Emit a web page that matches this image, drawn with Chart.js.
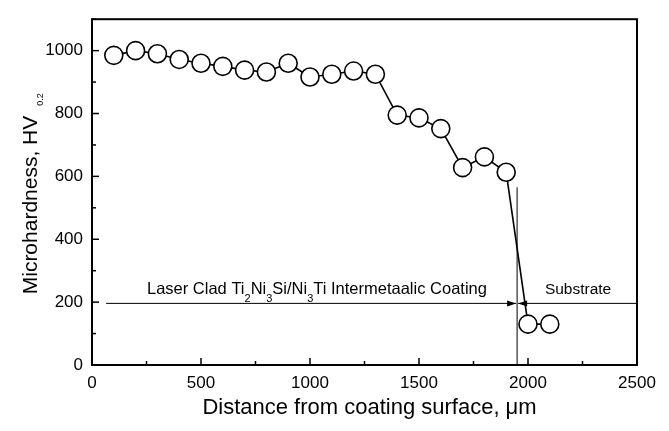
<!DOCTYPE html>
<html>
<head>
<meta charset="utf-8">
<script src="https://cdn.jsdelivr.net/npm/chart.js@4/dist/chart.umd.min.js"></script>
<style>
html,body{margin:0;padding:0;background:#fff;}
#wrap{width:669px;height:431px;position:relative;}
</style>
</head>
<body>
<div id="wrap"><canvas id="c" width="669" height="431"></canvas></div>
<script>
// ---- data ----
const distance = [100,200,300,400,500,600,700,800,900,1000,1100,1200,1300,1400,1500,1600,1700,1800,1900,2000,2100];
const hardness = [985,1000,990,972,960,950,938,932,960,916,925,935,925,795,786,752,628,662,613,130,130];
const xTicks = [0,500,1000,1500,2000,2500];
const yTicks = [0,200,400,600,800,1000];
const boundaryX = 1950;       // coating / substrate boundary
const boundaryTop = 565;      // top of boundary line (HV)
const arrowY = 196;           // level of arrows (HV)
const arrowStartX = 65;       // left end of coating arrow
const coatingLabelY = 225;
const xTitle = 'Distance from coating surface, \u03BCm';
const yTitle = 'Microhardness, HV';
const ySub = '0.2';

const FONT = '"Liberation Sans", Arial, Helvetica, sans-serif';

function drawRich(ctx, parts, x, y, size) {
  let cx = x;
  for (const [t, sub] of parts) {
    ctx.font = (sub ? Math.round(size*0.66) : size) + 'px ' + FONT;
    ctx.fillText(t, cx, sub ? y + size*0.45 : y);
    cx += ctx.measureText(t).width;
  }
  return cx - x;
}

const decor = {
  id: 'decor',
  afterDraw(chart) {
    const ctx = chart.ctx;
    const xs = chart.scales.x, ys = chart.scales.y;
    const a = chart.chartArea;
    ctx.save();
    ctx.strokeStyle = '#000'; ctx.fillStyle = '#000';
    ctx.lineWidth = 2;
    ctx.strokeRect(a.left, a.top, a.right - a.left, a.bottom - a.top);
    ctx.lineWidth = 1.5;
    for (let v = 0; v <= 2500; v += 250) {
      const px = xs.getPixelForValue(v);
      const len = (v % 500 === 0) ? 7 : 4;
      ctx.beginPath(); ctx.moveTo(px, a.bottom); ctx.lineTo(px, a.bottom - len); ctx.stroke();
    }
    for (let v = 0; v <= 1100; v += 100) {
      const py = ys.getPixelForValue(v);
      const len = (v % 200 === 0) ? 7 : 4;
      ctx.beginPath(); ctx.moveTo(a.left, py); ctx.lineTo(a.left + len, py); ctx.stroke();
    }
    const bx = xs.getPixelForValue(boundaryX);
    ctx.lineWidth = 1;
    ctx.beginPath(); ctx.moveTo(bx, a.bottom); ctx.lineTo(bx, ys.getPixelForValue(boundaryTop)); ctx.stroke();
    const ay = ys.getPixelForValue(arrowY);
    const x0 = xs.getPixelForValue(arrowStartX);
    ctx.beginPath(); ctx.moveTo(x0, ay); ctx.lineTo(bx - 1, ay); ctx.stroke();
    ctx.beginPath(); ctx.moveTo(bx-1, ay); ctx.lineTo(bx - 10, ay - 3); ctx.lineTo(bx - 10, ay + 3); ctx.closePath(); ctx.fill();
    ctx.beginPath(); ctx.moveTo(bx+1, ay); ctx.lineTo(a.right, ay); ctx.stroke();
    ctx.beginPath(); ctx.moveTo(bx+1, ay); ctx.lineTo(bx + 10, ay - 3); ctx.lineTo(bx + 10, ay + 3); ctx.closePath(); ctx.fill();
    ctx.textBaseline = 'alphabetic'; ctx.textAlign = 'left';
    const parts = [['Laser Clad Ti',0],['2',1],['Ni',0],['3',1],['Si/Ni',0],['3',1],['Ti Intermetaalic Coating',0]];
    const ly = ys.getPixelForValue(coatingLabelY);
    drawRich(ctx, parts, 147, ly, 16.5);
    ctx.font = '15.5px ' + FONT; ctx.textAlign = 'center';
    ctx.fillText('Substrate', (bx + a.right)/2 + 1, ly);
    ctx.font = '22px ' + FONT; ctx.textAlign = 'center';
    ctx.fillText(xTitle, (a.left + a.right)/2 + 5, 414);
    ctx.save();
    ctx.translate(37, 205);
    ctx.rotate(-Math.PI/2);
    ctx.textAlign = 'left';
    ctx.font = '21px ' + FONT;
    const tw = ctx.measureText(yTitle).width;
    ctx.fillText(yTitle, -tw/2, 0);
    ctx.font = '9px ' + FONT;
    ctx.fillText(ySub, tw/2 + 10, 6);
    ctx.restore();
    ctx.restore();
  }
};

new Chart(document.getElementById('c'), {
  type: 'line',
  data: {
    datasets: [{
      data: distance.map((d, i) => ({x: d, y: hardness[i]})),
      borderColor: '#000',
      borderWidth: 1.6,
      pointRadius: 9,
      pointBackgroundColor: '#fff',
      pointBorderColor: '#000',
      pointBorderWidth: 1.6,
      tension: 0,
      clip: false
    }]
  },
  options: {
    responsive: false,
    animation: false,
    devicePixelRatio: 1,
    layout: { padding: { top: 11, right: 32, left: 0, bottom: 0 } },
    plugins: { legend: { display: false }, tooltip: { enabled: false } },
    scales: {
      x: {
        type: 'linear', min: 0, max: 2500,
        afterBuildTicks(s){ s.ticks = xTicks.map(v => ({value: v})); },
        afterFit(s){ s.height = 66; },
        grid: { display: false, drawTicks: false },
        border: { display: false },
        ticks: { color: '#000', font: { size: 17, family: FONT }, padding: 8, maxRotation: 0, callback: v => String(v) }
      },
      y: {
        min: 0, max: 1100,
        afterBuildTicks(s){ s.ticks = yTicks.map(v => ({value: v})); },
        afterFit(s){ s.width = 92; },
        grid: { display: false, drawTicks: false },
        border: { display: false },
        ticks: { color: '#000', font: { size: 17, family: FONT }, padding: 9, callback: v => String(v) }
      }
    }
  },
  plugins: [decor]
});
</script>
</body>
</html>
